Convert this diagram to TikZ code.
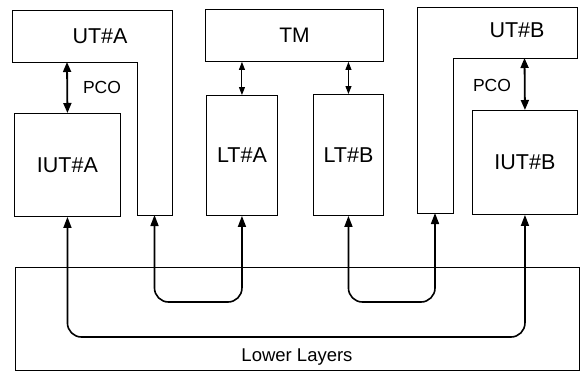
\documentclass[tikz,border=0pt]{standalone}
\usepackage{fontspec}
\setmainfont{Liberation Sans}
\usetikzlibrary{arrows.meta}
\begin{document}
\begin{tikzpicture}[x=1pt,y=-1pt,
  box/.style={draw, line width=0.9pt, inner sep=0pt, font=\fontsize{21.5}{25}\selectfont},
  lbl/.style={inner sep=0pt, font=\fontsize{21.5}{25}\selectfont},
  pcolbl/.style={inner sep=0pt, font=\fontsize{17.5}{20}\selectfont},
  lowconn/.style={line width=1.6pt, rounded corners=14pt,
    {Triangle[length=11pt,width=8pt]}-{Triangle[length=11pt,width=8pt]}},
  pco/.style={line width=1.8pt,
    {Triangle[length=10pt,width=8pt]}-{Triangle[length=10pt,width=8pt]}},
  tmarr/.style={line width=1pt,
    {Triangle[length=8pt,width=6pt]}-{Triangle[length=8pt,width=6pt]}}]
\useasboundingbox (0,0) rectangle (583,372);

% UT#A L-shape
\draw[line width=0.9pt] (12,10) -- (172,10) -- (172,215) -- (137,215) -- (137,62) -- (12,62) -- cycle;
\node[lbl] (utatext) at (100,36) {UT\#A};
\coordinate (utaB) at (154.5,215);
\coordinate (utaP) at (67,62);

% UT#B L-shape
\draw[line width=0.9pt] (417,7) -- (577,7) -- (577,58) -- (453,58) -- (453,213) -- (417,213) -- cycle;
\node[lbl] (utbtext) at (517,30) {UT\#B};
\coordinate (utbB) at (435,213);
\coordinate (utbP) at (524.5,58);

% boxes
\node[box, minimum width=106pt, minimum height=103pt, anchor=north west] (iuta) at (14,113) {IUT\#A};
\node[box, font=\fontsize{21}{25}\selectfont, minimum width=178pt, minimum height=52pt, anchor=north west] (tm) at (205,9) {TM};
\node[box, minimum width=71pt, minimum height=120pt, anchor=north west] (lta) at (206,95) {LT\#A};
\node[box, minimum width=70pt, minimum height=121pt, anchor=north west] (ltb) at (313,94) {LT\#B};
\node[box, minimum width=105pt, minimum height=104pt, anchor=north west] (iutb) at (472,110) {IUT\#B};

% Lower layers
\node[draw, line width=0.9pt, inner sep=0pt, minimum width=564pt, minimum height=103pt, anchor=north west] (ll) at (15,267) {};
\node[inner sep=0pt, font=\fontsize{18.5}{22}\selectfont] (lltext) at (297,357) {Lower Layers};

% PCO
\draw[pco] (utaP) -- (iuta.north);
\node[pcolbl] (pcoa) at (102,87) {PCO};
\draw[pco] (utbP) -- (iutb.north);
\node[pcolbl] (pcob) at (492,85) {PCO};

% TM arrows
\draw[tmarr] (tm.south -| lta.north) -- (lta.north);
\draw[tmarr] (tm.south -| ltb.north) -- (ltb.north);

% lower connectors
\coordinate (smallY) at (0,302);
\coordinate (bigY) at (0,337);
\draw[lowconn] (utaB) -- (utaB |- smallY) -- (lta.south |- smallY) -- (lta.south);
\draw[lowconn] (ltb.south) -- (ltb.south |- smallY) -- (utbB |- smallY) -- (utbB);
\draw[lowconn] (iuta.south) -- (iuta.south |- bigY) -- (iutb.south |- bigY) -- (iutb.south);
\end{tikzpicture}
\end{document}
